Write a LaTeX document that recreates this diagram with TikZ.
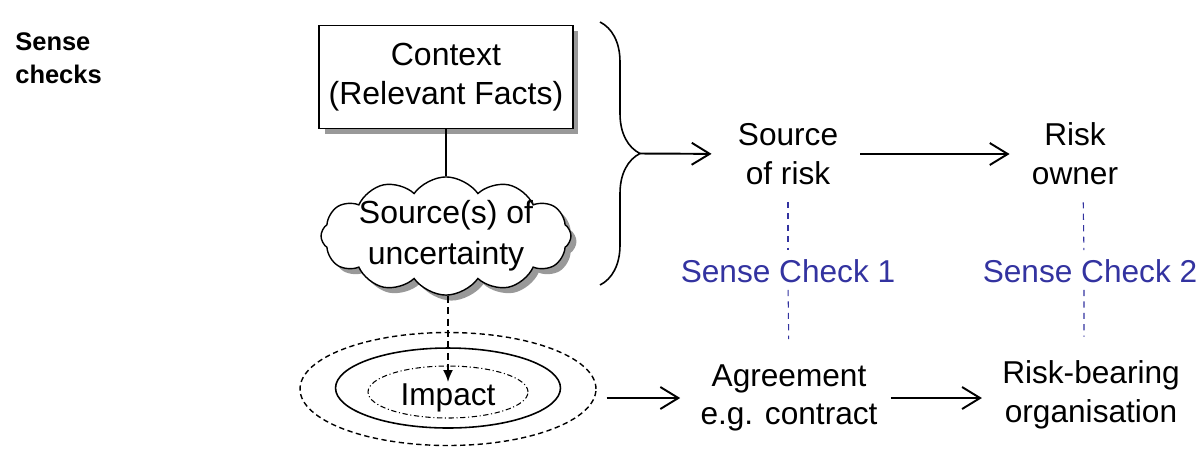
\documentclass[tikz,border=0pt]{standalone}
\usepackage{fontspec}
\setmainfont{Liberation Sans}
\usepackage{tikz}
\usetikzlibrary{positioning}
\usetikzlibrary{shapes,arrows.meta,shadows,decorations.pathreplacing}
\definecolor{checkblue}{RGB}{51,51,160}
\tikzstyle{txt} = [inner sep=0pt, align=center, font=\fontsize{18}{22}\selectfont]
\tikzstyle{context} = [rectangle, align=center, font=\fontsize{18.2}{22.5}\selectfont, draw=black, fill=white, line width=0.8pt, minimum width=5.08cm, minimum height=2.06cm, drop shadow={shadow xshift=0.11cm, shadow yshift=-0.11cm, fill=black!40, opacity=1}]
\tikzstyle{worry} = [cloud, cloud puffs=12, cloud puff arc=110, aspect=2.8, align=center, font=\fontsize{18.2}{23.5}\selectfont, draw=black, fill=white, line width=0.8pt, minimum width=5cm, minimum height=1.8cm, inner xsep=0pt, inner ysep=-7pt, drop shadow={shadow xshift=0.11cm, shadow yshift=-0.11cm, fill=black!40, opacity=1}]
\tikzstyle{zone} = [ellipse, inner sep=0pt, draw=black]
\tikzstyle{line} = [draw, line width=1.1pt, -{Straight Barb[length=3.6mm,width=4.4mm]}]
\tikzstyle{dline} = [draw, line width=1pt, dash pattern=on 4pt off 2.5pt, -{Latex[length=2.4mm,width=2mm]}]
\tikzstyle{check} = [draw=checkblue, line width=0.6pt, dash pattern=on 3.5pt off 3pt]
\begin{document}
\begin{tikzpicture}[x=0.02cm, y=-0.02cm]
			\useasboundingbox (0,0) rectangle (1202,461);
			% Place nodes
			\node [txt, anchor=north west, align=left, font=\fontsize{14.5}{18.7}\selectfont\bfseries] (title) at (15,32) {Sense\\checks};
			\node [context] (ctx) at (446,77) {Context\\(Relevant Facts)};
			\node [worry] (cld) at (446,236) {Source(s) of\\uncertainty};
			\node [zone, line width=0.8pt, dash pattern=on 3pt off 2pt, minimum width=5.92cm, minimum height=2.26cm] (outer) at (448,389) {};
			\node [zone, line width=0.9pt, minimum width=4.5cm, minimum height=1.6cm] (mid) at (448,388) {};
			\node [zone, txt, text height=14.8pt, text depth=0pt, line width=0.6pt, dash pattern=on 3pt off 1.5pt on 0.6pt off 1.5pt, minimum width=3.2cm, minimum height=1.04cm] (imp) at (448,392) {Impact};
			\node [txt] (src) at (788,154) {Source\\of risk};
			\node [txt] (own) at (1075,154) {Risk\\owner};
			\node [txt, text=checkblue] (sc1) at (788,271) {Sense Check 1};
			\node [txt, text=checkblue] (sc2) at (1090,271) {Sense Check 2};
			\node [txt] (agr) at (789,398) {Agreement\\e.g. contract};
			\node [txt] (rbo) at (1091,395) {Risk-bearing\\organisation};
			\coordinate (bt) at (600,22);
			\coordinate (bb) at (600,285);
			\coordinate (tip) at (640,153.5);
			% Draw edges
			\draw [line width=0.8pt] (ctx.south) -- (cld.north);
			\path [dline, shorten >=0.2cm] (cld.south -| imp) -- (imp.center);
			\draw [line width=0.9pt, decorate, decoration={brace, amplitude=0.8cm}] (bt) -- (bb);
			\path [line, shorten >=0.52cm] (tip) -- (src.west);
			\path [line, shorten <=0.44cm, shorten >=0.44cm] (src.east) -- (own.west);
			\path [line, shorten <=0.2cm, shorten >=0.4cm] (outer.east |- agr.west) -- (agr.west);
			\path [line, shorten <=0.26cm, shorten >=0.4cm] (agr.east) -- (rbo.west |- agr.east);
			\path [check, shorten <=0.34cm, shorten >=0.18cm] (src.south) -- (sc1.north);
			\path [check, shorten <=0.14cm, shorten >=0.5cm] (sc1.south) -- (agr.north);
			\path [check, shorten <=0.34cm, shorten >=0.18cm] ([xshift=0.16cm]own.south) -- ([xshift=-0.12cm]sc2.north);
			\path [check, shorten <=0.14cm, shorten >=0.48cm] ([xshift=-0.12cm]sc2.south) -- ([xshift=-0.14cm]rbo.north);
			\end{tikzpicture}
\end{document}
